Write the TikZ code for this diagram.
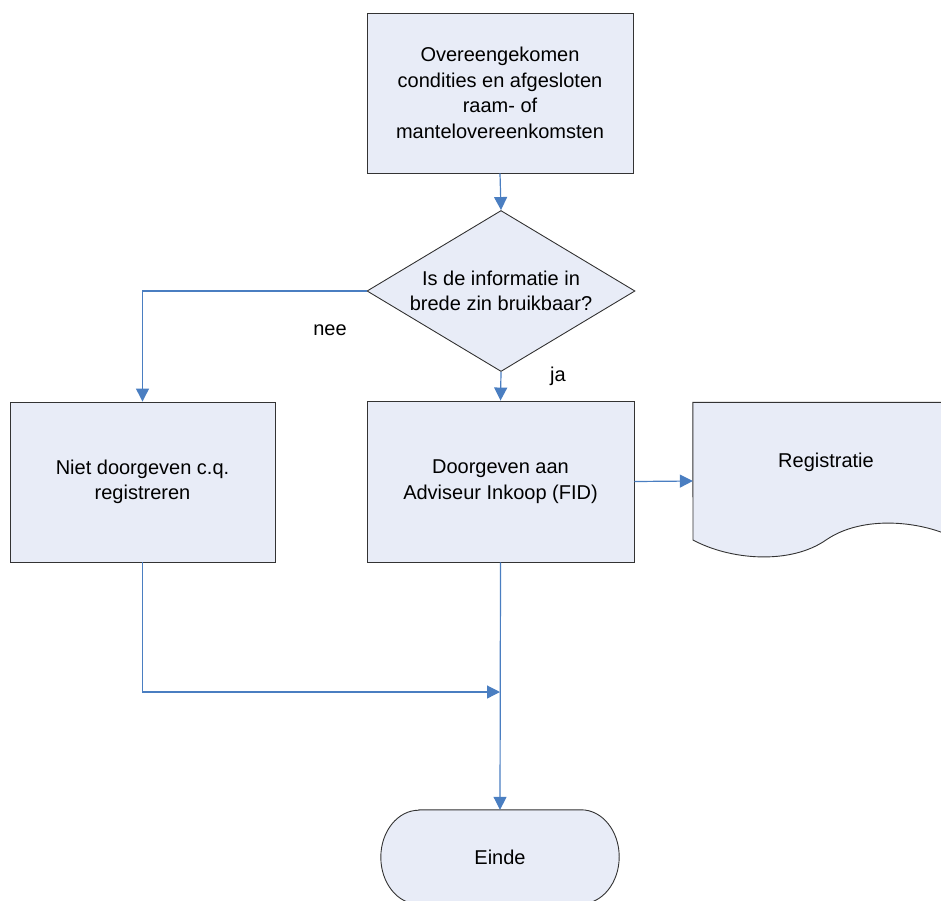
\documentclass[tikz,border=0pt]{standalone}
\usepackage{fontspec}
\setmainfont{Liberation Sans}
\usepackage{xcolor}
\usetikzlibrary{shapes.geometric, arrows.meta, positioning, calc}
\definecolor{boxfill}{HTML}{E8ECF7}
\definecolor{flowblue}{HTML}{4A7EC1}
\tikzset{
  block/.style={rectangle, draw=black!80, fill=boxfill, line width=0.9pt,
                minimum width=266pt, minimum height=160pt, align=center,
                font=\fontsize{20}{25.5}\selectfont},
  decision/.style={diamond, draw=black!80, fill=boxfill, line width=0.9pt,
                aspect=1.66, inner sep=0pt, minimum width=268pt, minimum height=161pt,
                align=center, font=\fontsize{20}{25.5}\selectfont},
  ghost/.style={rectangle, inner sep=0pt, align=center,
                font=\fontsize{20}{25.5}\selectfont},
  outline/.style={draw=black!80, fill=boxfill, line width=0.9pt},
  arrow/.style={-{Triangle[length=13pt, width=13pt]}, draw=flowblue, line width=1.2pt},
  label/.style={font=\fontsize{20}{24}\selectfont},
}
\begin{document}
\begin{tikzpicture}[x=1pt, y=-1pt]
  \useasboundingbox (0,0) rectangle (941,900);
  \clip (0,0) rectangle (941,900);

  %% Process steps
  \node[block] (condities) at (500,93)
    {Overeengekomen\\condities en afgesloten\\raam- of\\mantelovereenkomsten};
  \node[decision] (bruikbaar) at (501,291)
    {Is de informatie in\\brede zin bruikbaar?};
  \node[block, minimum width=265pt] (niet) at (142.5,482)
    {Niet doorgeven c.q.\\registreren};
  \node[block, minimum width=267pt, minimum height=161pt] (doorgeven) at (500.5,481.5)
    {Doorgeven aan\\Adviseur Inkoop (FID)};

  %% Document
  \node[ghost, minimum width=266pt, minimum height=157pt] (registratie) at (826,481) {};
  \path[outline] (registratie.north west) -- (registratie.north east) -- (959,540)
    .. controls (922,520) and (862,515) .. (826,540)
    .. controls (790,565) and (730,560) .. (693,540) -- cycle;
  \node[ghost] (regtext) at (826,462) {Registratie};

  %% Terminator
  \node[ghost, minimum width=238pt, minimum height=94pt] (einde) at (500,857) {};
  \path[outline] ([xshift=38pt]einde.north west) -- ([xshift=-38pt]einde.north east)
    arc[start angle=90, end angle=-90, x radius=38pt, y radius=47pt]
    -- ([xshift=38pt]einde.south west)
    arc[start angle=270, end angle=90, x radius=38pt, y radius=47pt] -- cycle;
  \node[ghost] (eindetext) at (einde.center) {Einde};

  %% Arrows
  \coordinate (samen) at (500,692);
  \draw[arrow] (condities.south) -- (bruikbaar.north);
  \draw[arrow] (bruikbaar.west) -| (niet.north);
  \draw[arrow] (bruikbaar.south) -- (doorgeven.north);
  \draw[arrow] (doorgeven.east) -- (registratie.west);
  \draw[arrow] (niet.south) |- (samen);
  \draw[arrow] (doorgeven.south) -- (einde.north);

  %% Labels
  \node[label] (nee) at (330,330) {nee};
  \node[label] (ja) at (558,376) {ja};

\end{tikzpicture}
\end{document}
